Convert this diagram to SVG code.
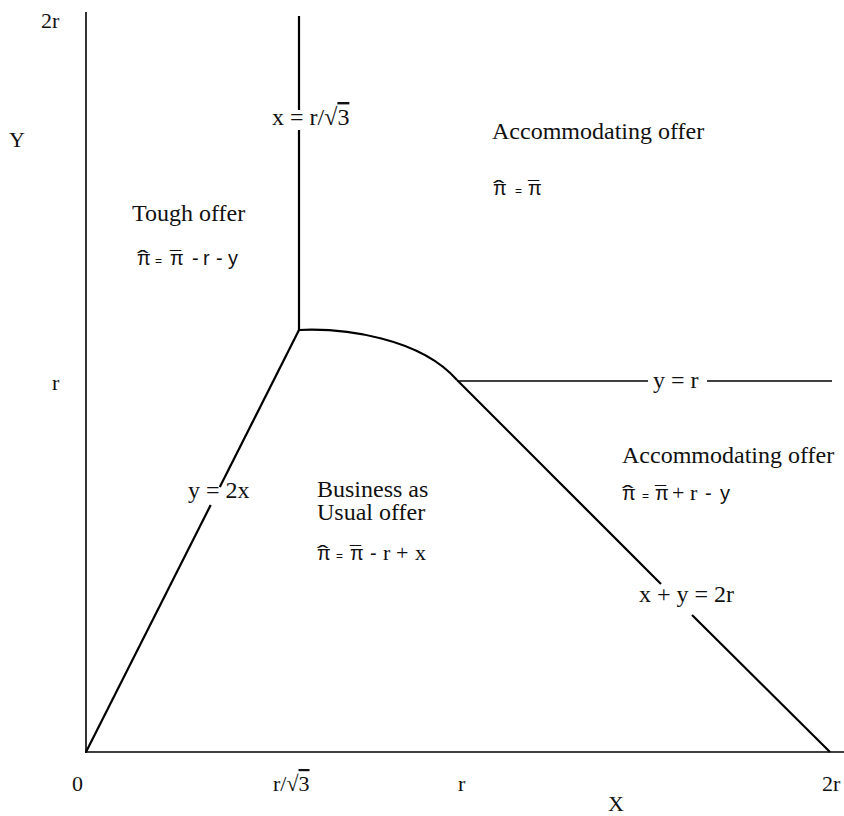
<svg xmlns="http://www.w3.org/2000/svg" width="844" height="816" viewBox="0 0 844 816">
<style>
.ax{stroke:#000;stroke-width:1.6;fill:none}
.ln{stroke:#000;stroke-width:2.2;fill:none}
.t{font-family:"Liberation Serif","Times New Roman",serif;font-size:24px;fill:#111}
.a{font-family:"Liberation Serif","Times New Roman",serif;font-size:22px;fill:#111}
.f{font-family:"Liberation Sans",Arial,sans-serif;font-size:20px;fill:#111}
.s{font-family:"Liberation Serif","Times New Roman",serif;font-size:22px}
.eq{font-size:12px}
</style>
<rect width="844" height="816" fill="#fff"/>
<g id="axes">
<line class="ax" x1="86" y1="12" x2="86" y2="753"/>
<line class="ax" x1="85" y1="752" x2="844" y2="752"/>
</g>
<g id="boundaries">
<line class="ln" x1="86" y1="752" x2="210.7" y2="505"/>
<line class="ln" x1="219.8" y1="487" x2="299" y2="330"/>
<line class="ln" x1="299" y1="16" x2="299" y2="110"/>
<line class="ln" x1="299" y1="130" x2="299" y2="331"/>
<path class="ln" d="M299,330 C345,328 420,338 457,380"/>
<line class="ln" x1="457" y1="380" x2="661" y2="584"/>
<line class="ln" x1="692" y1="615" x2="830" y2="752"/>
<line class="ax" x1="457" y1="381" x2="648" y2="381"/>
<line class="ax" x1="707" y1="381" x2="832" y2="381"/>
</g>
<g id="axis-labels">
<text class="a" x="41" y="28">2r</text>
<text class="a" x="9" y="147">Y</text>
<text class="a" x="52" y="390">r</text>
<text class="a" x="72" y="791">0</text>
<text class="a" x="273" y="791">r/√<tspan text-decoration="overline">3</tspan></text>
<text class="a" x="458" y="791">r</text>
<text class="a" x="822" y="791">2r</text>
<text class="a" x="608" y="811">X</text>
</g>
<g id="line-labels">
<text class="t" x="272" y="125">x = r/√<tspan text-decoration="overline">3</tspan></text>
<text class="t" x="188" y="498">y = 2x</text>
<text class="t" x="653" y="388">y = r</text>
<text class="t" x="639" y="602">x + y = 2r</text>
</g>
<g id="region-tough">
<text class="t" x="132" y="221">Tough offer</text>
<text class="f" y="265"><tspan x="137">π</tspan><tspan x="137" textLength="11.5" lengthAdjust="spacingAndGlyphs">ˆ</tspan><tspan class="eq" x="155">=</tspan><tspan x="170">π</tspan><tspan x="170">¯</tspan><tspan x="192">-</tspan><tspan x="203">r</tspan><tspan x="216">-</tspan><tspan x="228">y</tspan></text>
</g>
<g id="region-accommodating-top">
<text class="t" x="492" y="139">Accommodating offer</text>
<text class="f" y="195"><tspan x="493">π</tspan><tspan x="493" textLength="11.5" lengthAdjust="spacingAndGlyphs">ˆ</tspan><tspan class="eq" x="515">=</tspan><tspan x="528">π</tspan><tspan x="528">¯</tspan></text>
</g>
<g id="region-business">
<text class="t" x="317" y="497">Business as</text>
<text class="t" x="317" y="520">Usual offer</text>
<text class="f" y="560"><tspan x="317">π</tspan><tspan x="317" textLength="11.5" lengthAdjust="spacingAndGlyphs">ˆ</tspan><tspan class="eq" x="336">=</tspan><tspan x="350">π</tspan><tspan x="350">¯</tspan><tspan x="370">-</tspan><tspan class="s" x="383">r</tspan><tspan class="s" x="396">+</tspan><tspan class="s" x="415">x</tspan></text>
</g>
<g id="region-accommodating-right">
<text class="t" x="622" y="463">Accommodating offer</text>
<text class="f" y="500"><tspan x="622">π</tspan><tspan x="622" textLength="11.5" lengthAdjust="spacingAndGlyphs">ˆ</tspan><tspan class="eq" x="642">=</tspan><tspan x="655">π</tspan><tspan x="655">¯</tspan><tspan class="s" x="672">+</tspan><tspan class="s" x="690">r</tspan><tspan x="705">-</tspan><tspan x="720">y</tspan></text>
</g>
</svg>
